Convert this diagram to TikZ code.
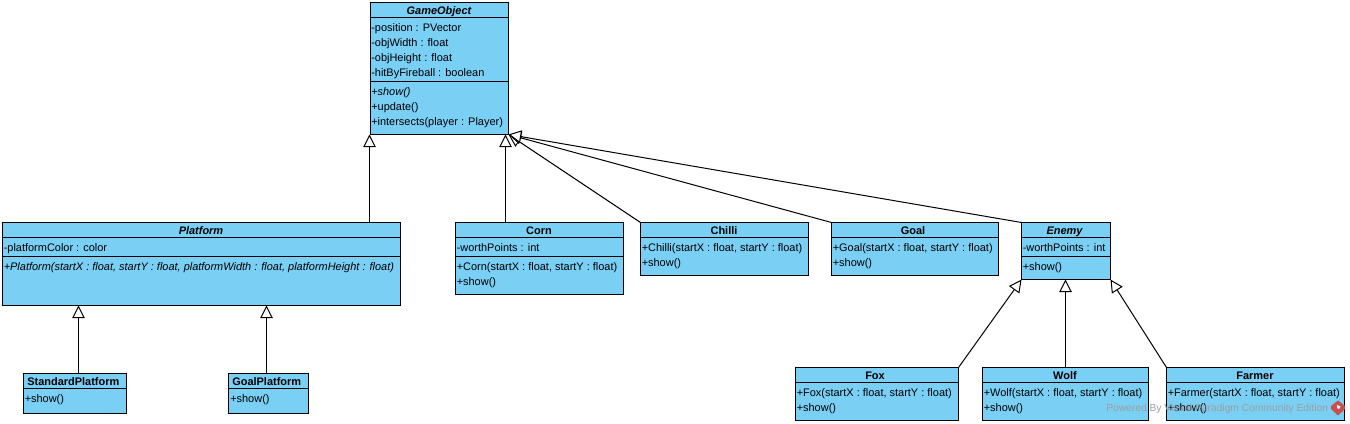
\documentclass[tikz,border=0pt]{standalone}
\usepackage{fontspec}
\setmainfont{Liberation Sans}
\usetikzlibrary{arrows.meta,calc}
\definecolor{umlfill}{HTML}{7ACFF5}
\definecolor{wmred}{HTML}{C8504A}
\newcommand{\umlfont}{\fontsize{8.22}{11.25}\selectfont}
\tikzset{
  umlbox/.style={draw=black,fill=umlfill,line width=0.75pt,inner sep=0pt,outer sep=0pt,anchor=north west},
  sepline/.style={draw=black,line width=0.75pt},
  titletext/.style={font=\umlfont\bfseries,inner sep=0pt,anchor=base},
  abstitle/.style={font=\umlfont\bfseries\itshape,inner sep=0pt,anchor=base},
  member/.style={font=\umlfont,inner sep=0pt,anchor=base west,xshift=-0.75pt,yshift=-0.5pt},
  absmember/.style={font=\umlfont\itshape,inner sep=0pt,anchor=base west,xshift=-0.75pt,yshift=-0.5pt},
  gen/.style={draw=black,line width=0.75pt,-{Triangle[open,fill=white,length=9.5pt,width=9.5pt]}},
  wmark/.style={font=\fontsize{7.7}{9}\selectfont,text=black!38,inner sep=0pt,anchor=base west}
}
% name, x1, y1, x2, y2
\newcommand{\umlrect}[5]{\node[umlbox,minimum width={(#4-#2)*0.75pt},minimum height={(#5-#3)*0.75pt}] (#1) at (#2,#3) {};}
\begin{document}
\begin{tikzpicture}[x=0.75pt,y=-0.75pt]
\useasboundingbox (0,0) rectangle (1350,424);
% GameObject
\umlrect{go}{370.5}{2.5}{508.5}{134.5}
\draw[sepline] (370.5,17.5) -- (508.5,17.5) (370.5,81.5) -- (508.5,81.5);
\node[abstitle] (gotitle) at (439,14.5) {GameObject};
\node[member] (goa) at (372,31) {-position : PVector};
\node[member] (gob) at (372,46) {-objWidth : float};
\node[member] (goc) at (372,61) {-objHeight : float};
\node[member] (god) at (372,76) {-hitByFireball : boolean};
\node[absmember] (goe) at (372,95) {+show()};
\node[member] (gof) at (372,110) {+update()};
\node[member] (gog) at (372,125) {+intersects(player : Player)};
% Platform
\umlrect{plat}{2.5}{222.5}{400.5}{305.5}
\draw[sepline] (2.5,237.5) -- (400.5,237.5) (2.5,256.5) -- (400.5,256.5);
\node[abstitle] (plattitle) at (201,234) {Platform};
\node[member] (plata) at (4.5,251) {-platformColor : color};
\node[absmember] (platb) at (4.5,270) {+Platform(startX : float, startY : float, platformWidth : float, platformHeight : float)};
% StandardPlatform
\umlrect{std}{23.5}{373.5}{126.5}{413.5}
\draw[sepline] (23.5,388.5) -- (126.5,388.5);
\node[titletext] (stdtitle) at (73.3,385) {StandardPlatform};
\node[member] (stda) at (25.5,402) {+show()};
% GoalPlatform
\umlrect{gp}{228.5}{373.5}{308.5}{413.5}
\draw[sepline] (228.5,388.5) -- (308.5,388.5);
\node[titletext] (gptitle) at (266.7,385) {GoalPlatform};
\node[member] (gpa) at (231,402) {+show()};
% Corn
\umlrect{corn}{455.5}{222.5}{623.5}{294.5}
\draw[sepline] (455.5,237.5) -- (623.5,237.5) (455.5,256.5) -- (623.5,256.5);
\node[titletext] (corntitle) at (539,234) {Corn};
\node[member] (corna) at (457.5,251) {-worthPoints : int};
\node[member] (cornb) at (457.5,270) {+Corn(startX : float, startY : float)};
\node[member] (cornc) at (457.5,285) {+show()};
% Chilli
\umlrect{chilli}{640.5}{222.5}{808.5}{275.5}
\draw[sepline] (640.5,237.5) -- (808.5,237.5);
\node[titletext] (chillititle) at (724,234) {Chilli};
\node[member] (chillia) at (642.5,251) {+Chilli(startX : float, startY : float)};
\node[member] (chillib) at (642.5,266) {+show()};
% Goal
\umlrect{goal}{831.5}{222.5}{998.5}{275.5}
\draw[sepline] (831.5,237.5) -- (998.5,237.5);
\node[titletext] (goaltitle) at (913,234) {Goal};
\node[member] (goala) at (833.5,251) {+Goal(startX : float, startY : float)};
\node[member] (goalb) at (833.5,266) {+show()};
% Enemy
\umlrect{enemy}{1021.5}{222.5}{1110.5}{279.5}
\draw[sepline] (1021.5,237.5) -- (1110.5,237.5) (1021.5,256.5) -- (1110.5,256.5);
\node[abstitle] (enemytitle) at (1064.5,234) {Enemy};
\node[member] (enemya) at (1023.5,251) {-worthPoints : int};
\node[member] (enemyb) at (1023.5,270) {+show()};
% Fox
\umlrect{fox}{795.5}{367.5}{958.5}{420.5}
\draw[sepline] (795.5,382.5) -- (958.5,382.5);
\node[titletext] (foxtitle) at (875,379) {Fox};
\node[member] (foxa) at (797.5,396) {+Fox(startX : float, startY : float)};
\node[member] (foxb) at (797.5,411) {+show()};
% Wolf
\umlrect{wolf}{982.5}{367.5}{1148.5}{420.5}
\draw[sepline] (982.5,382.5) -- (1148.5,382.5);
\node[titletext] (wolftitle) at (1065,379) {Wolf};
\node[member] (wolfa) at (984.5,396) {+Wolf(startX : float, startY : float)};
\node[member] (wolfb) at (984.5,411) {+show()};
% Farmer
\umlrect{farmer}{1166.5}{367.5}{1344.5}{420.5}
\draw[sepline] (1166.5,382.5) -- (1344.5,382.5);
\node[titletext] (farmertitle) at (1255,379) {Farmer};
\node[member] (farmera) at (1168.5,396) {+Farmer(startX : float, startY : float)};
\node[member] (farmerb) at (1168.5,411) {+show()};
% Connectors
\coordinate (platarrow) at ($(plat.north west)+(367,0)$);
\draw[gen] (platarrow) -- (platarrow |- go.south);
\coordinate (corntop) at ($(corn.north west)+(50,0)$);
\draw[gen] (corntop) -- (corntop |- go.south);
\draw[gen] (chilli.north west) -- (go.south east);
\draw[gen] (goal.north west) -- (go.south east);
\draw[gen] (enemy.north west) -- (go.south east);
\coordinate (stdtop) at ($(std.north west)+(55,0)$);
\draw[gen] (stdtop) -- (stdtop |- plat.south);
\coordinate (gptop) at ($(gp.north west)+(38,0)$);
\draw[gen] (gptop) -- (gptop |- plat.south);
\draw[gen] (fox.north east) -- (enemy.south west);
\coordinate (wolftop) at ($(wolf.north west)+(83,0)$);
\draw[gen] (wolftop) -- (wolftop |- enemy.south);
\draw[gen] (farmer.north west) -- (enemy.south east);
% Watermark
\node[wmark] (wm) at (1106,411) {Powered By Visual Paradigm Community Edition};
\fill[wmred] (1338,400.5) -- (1345,406) -- (1345,409) -- (1338,415.5) -- (1331,409) -- (1331,406) -- cycle;
\fill[white] (1337,405) -- (1340.5,406.5) -- (1339,409) -- (1337.2,408) -- cycle;
\end{tikzpicture}
\end{document}
